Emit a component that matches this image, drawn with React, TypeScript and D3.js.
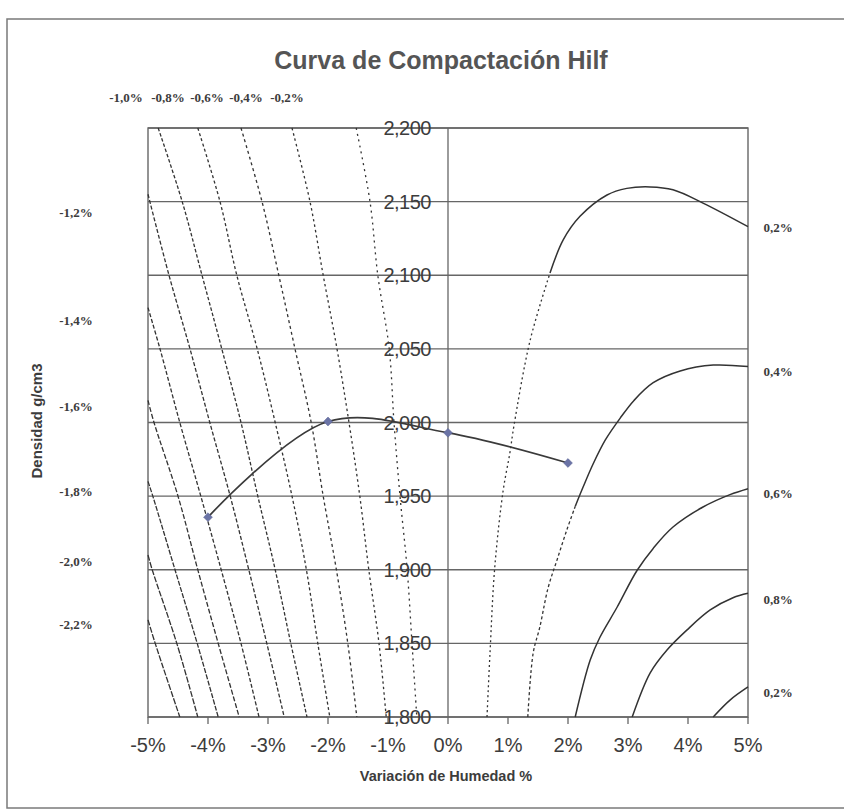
import React from 'react';
import * as d3 from 'd3';

// ---------- data ----------
const xTicks = [-5, -4, -3, -2, -1, 0, 1, 2, 3, 4, 5];
const xTickLabels = ['-5%', '-4%', '-3%', '-2%', '-1%', '0%', '1%', '2%', '3%', '4%', '5%'];
const yTicks = [1.8, 1.85, 1.9, 1.95, 2.0, 2.05, 2.1, 2.15, 2.2];
const yTickLabels = ['1,800', '1,850', '1,900', '1,950', '2,000', '2,050', '2,100', '2,150', '2,200'];

// compaction curve (moisture variation %, density g/cm3)
const moisture = [-4, -2, 0, 2];
const densityValues = [1.9357, 2.0007, 1.993, 1.9725];

// Hilf contour lines, [moisture %, density]
const lineM22: [number, number][] = [[-5.0, 1.866], [-4.88, 1.85], [-4.47, 1.8]];
const lineM20: [number, number][] = [[-5.0, 1.91], [-4.93, 1.9], [-4.52, 1.85], [-4.17, 1.8]];
const lineM18: [number, number][] = [[-5.0, 1.96], [-4.92, 1.95], [-4.55, 1.9], [-4.18, 1.85], [-3.83, 1.8]];
const lineM16: [number, number][] = [[-5.0, 2.015], [-4.9, 2.0], [-4.5, 1.95], [-4.17, 1.9], [-3.83, 1.85], [-3.48, 1.8]];
const lineM14: [number, number][] = [[-5.0, 2.078], [-4.8, 2.05], [-4.47, 2.0], [-4.12, 1.95], [-3.78, 1.9], [-3.45, 1.85], [-3.15, 1.8]];
const lineM12: [number, number][] = [[-5.0, 2.155], [-4.65, 2.1], [-4.3, 2.05], [-3.97, 2.0], [-3.63, 1.95], [-3.32, 1.9], [-3.02, 1.85], [-2.73, 1.8]];
const lineM10: [number, number][] = [[-4.83, 2.2], [-4.43, 2.15], [-4.1, 2.1], [-3.77, 2.05], [-3.45, 2.0], [-3.17, 1.95], [-2.88, 1.9], [-2.62, 1.85], [-2.35, 1.8]];
const lineM08: [number, number][] = [[-4.17, 2.2], [-3.8, 2.15], [-3.52, 2.1], [-3.18, 2.05], [-2.88, 2.0], [-2.6, 1.95], [-2.36, 1.9], [-2.17, 1.85], [-1.97, 1.8]];
const lineM06: [number, number][] = [[-3.45, 2.2], [-3.1, 2.15], [-2.82, 2.1], [-2.55, 2.05], [-2.28, 2.0], [-2.08, 1.95], [-1.86, 1.9], [-1.67, 1.85], [-1.52, 1.8]];
const lineM04: [number, number][] = [[-2.6, 2.2], [-2.3, 2.15], [-2.08, 2.1], [-1.85, 2.05], [-1.65, 2.0], [-1.47, 1.95], [-1.32, 1.9], [-1.15, 1.85], [-1.03, 1.8]];
const lineM02: [number, number][] = [[-1.53, 2.2], [-1.3, 2.15], [-1.17, 2.1], [-0.98, 2.05], [-0.9, 2.0], [-0.8, 1.95], [-0.68, 1.9], [-0.6, 1.85], [-0.52, 1.8]];

const lineP02a: [number, number][] = [[0.65, 1.8], [0.7, 1.8435], [0.78, 1.902], [0.92, 1.954], [1.03, 1.979], [1.1, 1.998], [1.37, 2.056], [1.7, 2.1015], [1.92, 2.124], [2.2, 2.14], [2.65, 2.1545], [2.98, 2.159], [3.37, 2.16], [3.75, 2.158], [4.25, 2.149], [5.0, 2.133]];
const lineP04: [number, number][] = [[1.33, 1.8], [1.42, 1.8435], [1.53, 1.861], [1.67, 1.888], [1.82, 1.907], [1.98, 1.927], [2.12, 1.943], [2.25, 1.956], [2.42, 1.972], [2.62, 1.988], [2.87, 2.003], [3.1, 2.015], [3.42, 2.027], [3.87, 2.035], [4.42, 2.039], [5.0, 2.038]];
const lineP06: [number, number][] = [[2.12, 1.8], [2.37, 1.8387], [2.53, 1.854], [2.82, 1.8747], [3.15, 1.8995], [3.42, 1.9145], [3.75, 1.929], [4.25, 1.9426], [4.7, 1.951], [5.0, 1.955]];
const lineP08: [number, number][] = [[3.07, 1.8], [3.37, 1.83], [3.65, 1.8455], [3.98, 1.859], [4.37, 1.8727], [4.75, 1.881], [5.0, 1.884]];
const lineP02b: [number, number][] = [[4.42, 1.8], [4.7, 1.8115], [5.0, 1.8204]];

const leftFamily = [lineM22, lineM20, lineM18, lineM16, lineM14, lineM12, lineM10, lineM08, lineM06, lineM04, lineM02];

const topLabels = ['-1,0%', '-0,8%', '-0,6%', '-0,4%', '-0,2%'];
const leftLabels = ['-1,2%', '-1,4%', '-1,6%', '-1,8%', '-2,0%', '-2,2%'];
const rightLabels = ['0,2%', '0,4%', '0,6%', '0,8%', '0,2%'];

const title = 'Curva de Compactación Hilf';
const xTitle = 'Variación de Humedad %';
const yTitle = 'Densidad g/cm3';

// ---------- layout ----------
const W = 844;
const H = 811;
const PL = 148, PR = 748, PT = 128, PB = 717;
const topLabelX = [126, 168, 207, 246, 287];
const leftLabelY = [212, 320, 406, 491, 561, 624];
const rightLabelY = [227, 371, 493, 599, 692];
const leftDash = ['6,1.5', '6,1.5', '5,1.5', '5,2', '4,2', '4,2', '3.5,2', '3,2.5', '3,3', '2.5,3', '2,4'];

export default function App() {
  const x = d3.scaleLinear().domain([-5, 5]).range([PL, PR]);
  const y = d3.scaleLinear().domain([1.8, 2.2]).range([PB, PT]);
  const line = d3.line<[number, number]>().x(d => x(d[0])).y(d => y(d[1])).curve(d3.curveCatmullRom.alpha(0.5));
  const dataPts: [number, number][] = moisture.map((m, i) => [m, densityValues[i]]);
  const diamond = d3.symbol().type(d3.symbolDiamond2).size(50)();
  const lineCol = '#333';
  const gridCol = '#666';
  const textCol = '#3c3c3c';
  const sans = '"Liberation Sans", Arial, sans-serif';
  const serif = '"Liberation Serif", "Times New Roman", serif';

  return (
    <svg width={W} height={H} style={{ position: 'absolute', left: 0, top: 0, background: '#fff' }}>
      <rect x={0} y={0} width={W} height={H} fill="#fff" />
      {/* outer frame */}
      <rect x={7} y={19} width={W} height={789} fill="none" stroke="#7a7a7a" strokeWidth={1.5} />

      <text x={441} y={69} textAnchor="middle" fontFamily={sans} fontWeight="bold" fontSize={25} fill="#555">{title}</text>

      {/* gridlines */}
      {yTicks.map(t => (
        <line key={'g' + t} x1={PL} x2={PR} y1={y(t)} y2={y(t)} stroke={gridCol} strokeWidth={1.3} />
      ))}
      {/* plot frame */}
      <rect x={PL} y={PT} width={PR - PL} height={PB - PT} fill="none" stroke={gridCol} strokeWidth={1.4} />
      {/* vertical axis at 0% */}
      <line x1={x(0)} x2={x(0)} y1={PT} y2={PB} stroke={gridCol} strokeWidth={1.3} />
      {/* x axis ticks */}
      {xTicks.map(t => (
        <line key={'t' + t} x1={x(t)} x2={x(t)} y1={PB} y2={PB + 7} stroke={gridCol} strokeWidth={1.3} />
      ))}

      {/* left contour family */}
      {leftFamily.map((pts, i) => (
        <path key={'lf' + i} d={line(pts) || ''} fill="none" stroke={lineCol} strokeWidth={1.3} strokeDasharray={leftDash[i]} />
      ))}

      {/* right contour family */}
      <path d={line(lineP02a.slice(0, 8)) || ''} fill="none" stroke={lineCol} strokeWidth={1.3} strokeDasharray="2,3" />
      <path d={line(lineP02a.slice(7)) || ''} fill="none" stroke={lineCol} strokeWidth={1.5} />
      <path d={line(lineP04.slice(0, 7)) || ''} fill="none" stroke={lineCol} strokeWidth={1.3} strokeDasharray="3,2.5" />
      <path d={line(lineP04.slice(6)) || ''} fill="none" stroke={lineCol} strokeWidth={1.5} />
      <path d={line(lineP06) || ''} fill="none" stroke={lineCol} strokeWidth={1.5} />
      <path d={line(lineP08) || ''} fill="none" stroke={lineCol} strokeWidth={1.5} />
      <path d={line(lineP02b) || ''} fill="none" stroke={lineCol} strokeWidth={1.5} />

      {/* compaction curve */}
      <path d={line(dataPts) || ''} fill="none" stroke="#3a3a3a" strokeWidth={1.7} />
      {dataPts.map((p, i) => (
        <path key={'m' + i} d={diamond || ''} transform={`translate(${x(p[0])},${y(p[1])})`} fill="#6b74a6" stroke="#5a6394" strokeWidth={0.5} />
      ))}

      {/* y tick labels on the 0% axis */}
      {yTicks.map((t, i) => (
        <text key={'yl' + t} x={x(0) - 17} y={y(t) + 7} textAnchor="end" fontFamily={sans} fontSize={20} fill={textCol} letterSpacing={-0.5}>{yTickLabels[i]}</text>
      ))}
      {/* x tick labels */}
      {xTicks.map((t, i) => (
        <text key={'xl' + t} x={x(t)} y={752} textAnchor="middle" fontFamily={sans} fontSize={20} fill={textCol}>{xTickLabels[i]}</text>
      ))}
      <text x={446} y={781} textAnchor="middle" fontFamily={sans} fontWeight="bold" fontSize={14.5} fill={textCol}>{xTitle}</text>
      <text transform="translate(42,421) rotate(-90)" textAnchor="middle" fontFamily={sans} fontWeight="bold" fontSize={15} fill={textCol}>{yTitle}</text>

      {/* contour labels */}
      {topLabels.map((s, i) => (
        <text key={'tl' + i} x={topLabelX[i]} y={102} textAnchor="middle" fontFamily={serif} fontWeight="bold" fontSize={13} fill={textCol}>{s}</text>
      ))}
      {leftLabels.map((s, i) => (
        <text key={'ll' + i} x={76} y={leftLabelY[i] + 5} textAnchor="middle" fontFamily={serif} fontWeight="bold" fontSize={13} fill={textCol}>{s}</text>
      ))}
      {rightLabels.map((s, i) => (
        <text key={'rl' + i} x={778} y={rightLabelY[i] + 5} textAnchor="middle" fontFamily={serif} fontWeight="bold" fontSize={13} fill={textCol}>{s}</text>
      ))}
    </svg>
  );
}
